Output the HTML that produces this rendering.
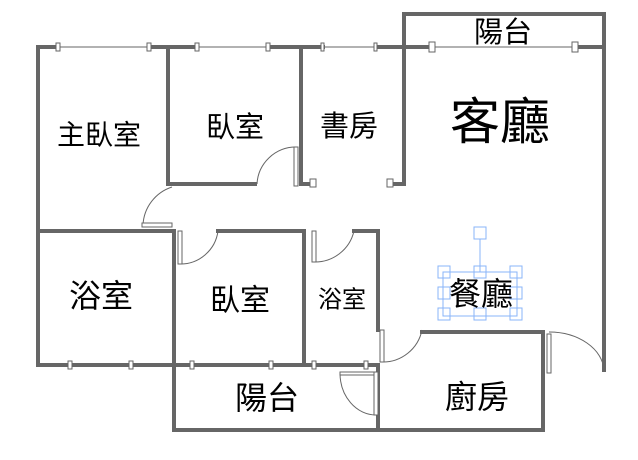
<!DOCTYPE html><html><head><meta charset="utf-8"><style>body{margin:0;background:#fff}svg{display:block}text{font-family:"Liberation Sans","Noto Sans CJK TC",sans-serif;text-anchor:middle;dominant-baseline:central;fill:#000}</style></head><body>
<svg width="638" height="460" viewBox="0 0 638 460">
<g stroke="#666" stroke-width="4" fill="none" stroke-linecap="square">
<path d="M404 14H604V370"/><path d="M404 14V184H389"/>
<path d="M38 47H58M149 47H197M268 47H323M376 47H432M575 47H604"/>
<path d="M38 47V365"/><path d="M168 47V184H255"/><path d="M301 47V184H313"/>
<path d="M38 231H172"/><path d="M174 231V430H543V332H422"/><path d="M218 231H304V365"/>
<path d="M354 231H378V330"/><path d="M378 365V430"/>
<path d="M38 365H378"/>
</g>
<g stroke="#666" stroke-width="1" fill="none">
<path d="M58 47H149M197 47H268M323 47H376M432 47H575M38 365H378"/>
<path d="M257 184A39 39 0 0 1 296 147"/><path d="M143 225A42 42 0 0 1 172 187"/>
<path d="M180 264A38 38 0 0 0 218 231"/><path d="M314 262A40 40 0 0 0 354 231"/>
<path d="M382 362A40 40 0 0 0 422 330"/><path d="M549 332A55 40 0 0 1 604 370"/>
<path d="M340 373A36 42 0 0 0 376 415"/>
</g>
<g fill="#fff" stroke="#666" stroke-width="1">
<rect x="294" y="147" width="4" height="39"/><rect x="142" y="223" width="30" height="4"/>
<rect x="178" y="231" width="4" height="33"/><rect x="312" y="231" width="4" height="31"/>
<rect x="380" y="330" width="4" height="32"/><rect x="547" y="334" width="4" height="39"/>
<rect x="340" y="372" width="36" height="3"/><rect x="374" y="372" width="4" height="43"/>
<rect x="56" y="43" width="4" height="8"/><rect x="147" y="43" width="4" height="8"/>
<rect x="195" y="43" width="4" height="8"/><rect x="266" y="43" width="4" height="8"/>
<rect x="321" y="43" width="3" height="8"/><rect x="374" y="43" width="3" height="8"/>
<rect x="429" y="42" width="6" height="10"/><rect x="572" y="42" width="6" height="10"/>
<rect x="310" y="179" width="6" height="8"/><rect x="387" y="179" width="6" height="8"/>
<rect x="68" y="361" width="4" height="8"/><rect x="129" y="361" width="4" height="8"/>
<rect x="190" y="361" width="4" height="8"/><rect x="269" y="361" width="4" height="8"/>
<rect x="312" y="361" width="4" height="8"/><rect x="364" y="361" width="4" height="8"/>
</g>
<g fill="none" stroke="#8ab4f8" stroke-width="1">
<line x1="480" y1="239" x2="480" y2="272"/><rect x="443" y="272" width="74" height="44"/>
<rect x="474" y="227" width="12" height="12"/>
<rect x="438" y="266" width="12" height="12"/><rect x="474" y="266" width="12" height="12"/><rect x="510" y="266" width="12" height="12"/>
<rect x="438" y="287" width="12" height="12"/><rect x="510" y="287" width="12" height="12"/>
<rect x="438" y="308" width="12" height="12"/><rect x="474" y="308" width="12" height="12"/><rect x="510" y="308" width="12" height="12"/>
</g>
<text x="503" y="33" font-size="29">陽台</text>
<text x="500" y="122" font-size="50">客廳</text>
<text x="99" y="135" font-size="28">主臥室</text>
<text x="235" y="128" font-size="29">臥室</text>
<text x="349" y="127" font-size="29">書房</text>
<text x="101" y="296" font-size="32">浴室</text>
<text x="240" y="301" font-size="30">臥室</text>
<text x="342" y="300" font-size="24">浴室</text>
<text x="481" y="294" font-size="32">餐廳</text>
<text x="267" y="398" font-size="32">陽台</text>
<text x="477" y="397" font-size="32">廚房</text>
</svg></body></html>
